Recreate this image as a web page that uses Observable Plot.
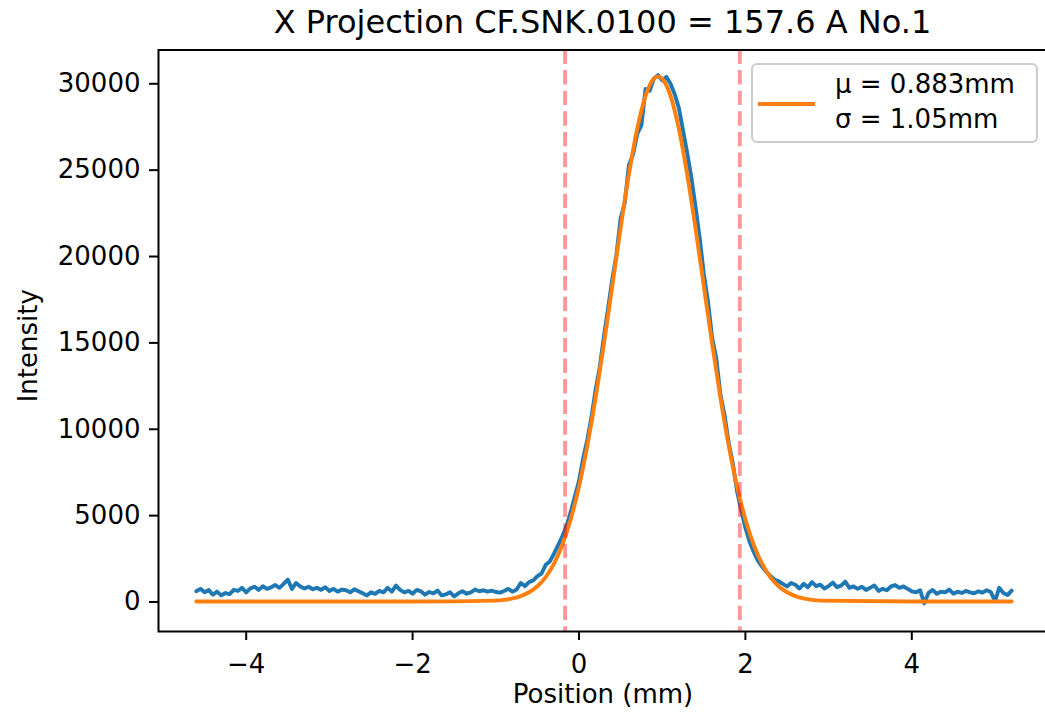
<!DOCTYPE html>
<html>
<head>
<meta charset="utf-8">
<script src="https://cdn.jsdelivr.net/npm/d3@7"></script>
<script src="https://cdn.jsdelivr.net/npm/@observablehq/plot@0.6"></script>
<style>
html, body { margin: 0; padding: 0; background: #fff; overflow: hidden; }
#wrap { position: relative; width: 1045px; height: 716px; font-family: "DejaVu Sans", sans-serif; color: #000; overflow: hidden; }
#chart { position: absolute; left: 0; top: 0; }
#chart svg { max-width: none !important; }
#title { position: absolute; left: 0; top: 7px; width: 1205px; text-align: center; font-size: 32px; line-height: 31px; white-space: nowrap; }
#legend { position: absolute; left: 751px; top: 63px; width: 287px; height: 80px; box-sizing: border-box; border: 2px solid #cccccc; border-radius: 6px; background: rgba(255,255,255,0.8); }
#swatch { position: absolute; left: 5px; top: 37px; width: 57px; height: 4px; background: #ff7f0e; }
.lt { position: absolute; left: 82px; font-size: 26px; line-height: 26px; white-space: nowrap; }
</style>
</head>
<body>
<div id="wrap">
  <div id="chart"></div>
  <div id="title"></div>
  <div id="legend">
    <div id="swatch"></div>
    <div class="lt" id="lt1" style="top:6px"></div>
    <div class="lt" id="lt2" style="top:41px"></div>
  </div>
</div>
<script>
// ---- data ----
const titleText = "X Projection CF.SNK.0100 = 157.6 A No.1";
const xLabel = "Position (mm)";
const yLabel = "Intensity";

// measured projection: first position and spacing (mm), then intensities
const xStart = -4.60;
const xStep = 0.05;
const intensity = [
  620, 760, 560, 690, 420, 600, 380, 520, 450, 700,
  640, 820, 560, 790, 880, 700, 910, 760, 850, 980,
  820, 1050, 1300, 760, 1100, 900, 780, 880, 740, 820,
  700, 860, 640, 760, 600, 720, 680, 560, 740, 620,
  500, 380, 560, 470, 640, 560, 820, 600, 950, 700,
  560, 640, 480, 700, 620, 420, 580, 500, 660, 380,
  440, 560, 320, 500, 620, 480, 560, 720, 620, 680,
  600, 660, 580, 540, 640, 760, 600, 720, 1100, 920,
  1150, 1250, 1500, 1650, 2150, 2350, 2800, 3300, 3800, 4400,
  5200, 6100, 7000, 8300, 9400, 10700, 12300, 13600, 15400, 17000,
  18700, 20100, 22200, 23100, 25300, 25900, 27100, 27600, 29700, 29600,
  30300, 30500, 30200, 30400, 30000, 29400, 28600, 27300, 26000, 24600,
  22900, 21100, 19000, 17400, 15300, 14100, 12000, 10800, 9200, 8000,
  6400, 5300, 4300, 3500, 2900, 2400, 2050, 1750, 1500, 1300,
  1200, 1050, 900, 1100, 1000, 780, 1050, 860, 1150, 920,
  1000, 780, 920, 1120, 860, 950, 1180, 820, 900, 760,
  880, 700, 820, 960, 640, 760, 680, 900, 980, 820,
  900, 760, 620, 560, 680, -80, 520, 700, 480, 600,
  560, 720, 480, 600, 520, 640, 560, 500, 620, 540,
  680, 580, 40, 820, 520, 400, 660
];

// fitted curve
const fitX = [-4.6, -2.0, -1.0, -0.9, -0.8, -0.7, -0.6, -0.5, -0.4, -0.3, -0.2, -0.1,
  0.0, 0.1, 0.2, 0.3, 0.4, 0.5, 0.6, 0.7, 0.8, 0.9, 0.95, 1.0, 1.1, 1.2, 1.3, 1.4,
  1.5, 1.6, 1.7, 1.8, 1.9, 2.0, 2.1, 2.2, 2.3, 2.4, 2.5, 2.6, 2.7, 2.8, 2.9, 4.0, 5.2];
const fitY = [30, 30, 80, 126, 206, 341, 562, 912, 1444, 2220, 3315, 4780,
  6680, 9040, 11830, 14960, 18300, 21650, 24770, 27400, 29300, 30300, 30430, 30300, 29300, 27400, 24770, 21650,
  18300, 14960, 11830, 9040, 6680, 4780, 3315, 2220, 1444, 912, 562, 341, 206, 126, 80, 30, 30];

// legend values and the dashed markers at mu - sigma and mu + sigma
const fitMu = 0.883;
const fitSigma = 1.05;
const cutLines = [-0.167, 1.933];

const xTicks = [-4, -2, 0, 2, 4];
const yTicks = [0, 5000, 10000, 15000, 20000, 25000, 30000];

// ---- build ----
const blueData = intensity.map((y, i) => ({x: xStart + i * xStep, y}));
const fitData = fitX.map((x, i) => ({x, y: fitY[i]}));
const fmt = d => (d < 0 ? "\u2212" + Math.abs(d) : String(d));

document.getElementById("title").textContent = titleText;
document.getElementById("lt1").textContent = "\u03bc = " + fitMu + "mm";
document.getElementById("lt2").textContent = "\u03c3 = " + fitSigma + "mm";

const chart = Plot.plot({
  width: 1050,
  height: 716,
  marginLeft: 158,
  marginRight: 3,
  marginTop: 49.5,
  marginBottom: 85,
  style: {fontFamily: '"DejaVu Sans", sans-serif', fontSize: "26px", color: "#000", background: "transparent", overflow: "visible", maxWidth: "none"},
  x: {domain: [-5.054, 5.631]},
  y: {domain: [-1708, 31956]},
  marks: [
    Plot.axisX({ticks: xTicks, tickSize: 9, tickPadding: 14, strokeWidth: 2, fontSize: 26, tickFormat: fmt, label: null}),
    Plot.axisY({ticks: yTicks, tickSize: 9, tickPadding: 9, strokeWidth: 2, fontSize: 26, tickFormat: d => String(d), label: null}),
    Plot.line(blueData, {x: "x", y: "y", stroke: "#1f77b4", strokeWidth: 3.9, strokeLinejoin: "round"}),
    Plot.line(fitData, {x: "x", y: "y", stroke: "#ff7f0e", strokeWidth: 3.9, curve: "monotone-x"}),
    Plot.ruleX(cutLines, {stroke: "red", strokeOpacity: 0.4, strokeWidth: 3.9, strokeDasharray: "14.4,6.2"}),
    Plot.frame({stroke: "#000", strokeWidth: 2}),
    Plot.text([xLabel], {text: d => d, frameAnchor: "bottom", textAnchor: "middle", dy: 71.7, fontSize: 26, fill: "#000"}),
    Plot.text([yLabel], {text: d => d, frameAnchor: "left", textAnchor: "middle", rotate: -90, dx: -130, dy: 5, fontSize: 26, fill: "#000"})
  ]
});
document.getElementById("chart").appendChild(chart);
</script>
</body>
</html>
